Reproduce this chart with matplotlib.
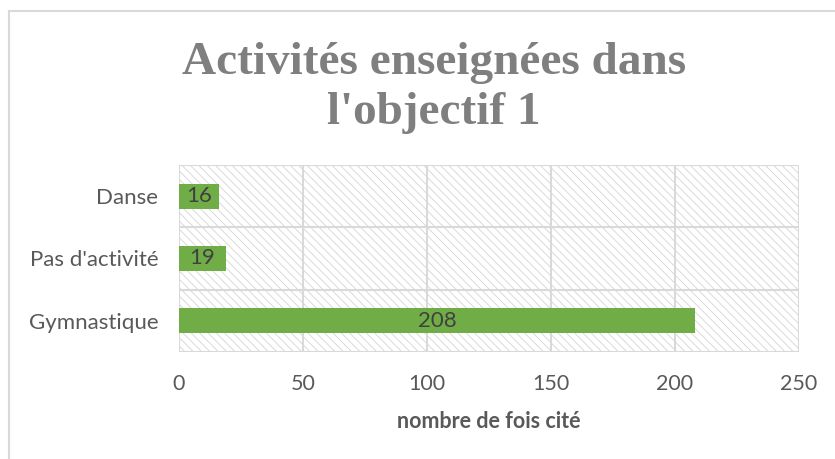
import matplotlib
matplotlib.use("Agg")
import matplotlib.pyplot as plt
from matplotlib.patches import Rectangle

categories = ["Gymnastique", "Pas d'activité", "Danse"]
values = [208, 19, 16]
xticks = [0, 50, 100, 150, 200, 250]
title = "Activités enseignées dans\nl'objectif 1"
xlabel = "nombre de fois cité"

W, H = 835, 459
plt.rcParams['hatch.linewidth'] = 0.6
plt.rcParams['hatch.color'] = '#d4d4d4'

fig = plt.figure(figsize=(W / 100, H / 100), dpi=100)
fig.patch.set_facecolor('white')

# chart border (only top/left visible)
fig.patches.append(Rectangle((9 / W, 0 - 0.05), 1.2, 1 - 11 / H + 0.05, transform=fig.transFigure,
                             facecolor='none', edgecolor='#d9d9d9', linewidth=1.5))

ax = fig.add_axes([179 / W, 1 - 352 / H, 620 / W, 187 / H])
ax.set_facecolor('white')
ax.add_patch(Rectangle((0, 0), 1, 1, transform=ax.transAxes, facecolor='white',
                       edgecolor='#d4d4d4', hatch='\\\\\\\\', linewidth=0, zorder=0))

pos = range(len(categories))
ax.barh(list(pos), values, height=0.4, color='#70ad47', zorder=3)
for i, v in zip(pos, values):
    ax.text(v / 2, i, str(v), ha='center', va='center', fontsize=16,
            family='Lato', color='#404040', zorder=4)

ax.set_xlim(0, 250)
ax.set_ylim(-0.5, len(categories) - 0.5)
ax.set_xticks(xticks)
ax.set_xticklabels([str(t) for t in xticks], family='Lato', fontsize=15.5, color='#595959')
ax.set_yticks(list(pos))
ax.set_yticklabels(categories, family='Lato', fontsize=16, color='#595959')
ax.tick_params(axis='both', length=0)
ax.tick_params(axis='x', pad=16)
ax.tick_params(axis='y', pad=15)

# grid lines
for t in xticks:
    ax.axvline(t, color='#d9d9d9', linewidth=1.5, zorder=1)
for b in [-0.5, 0.5, 1.5, 2.5]:
    ax.axhline(b, color='#d9d9d9', linewidth=1.5, zorder=1)
for s in ax.spines.values():
    s.set_visible(False)

ax.set_xlabel(xlabel, family='Lato', fontweight='bold', fontsize=15.5, color='#595959', labelpad=12)

fig.text(434 / W, 1 - 88 / H, title, ha='center', va='center', family='Liberation Serif',
         fontweight='bold', fontsize=34, color='#7f7f7f', linespacing=1.22)

fig.savefig('out.png', dpi=100, facecolor='white')
